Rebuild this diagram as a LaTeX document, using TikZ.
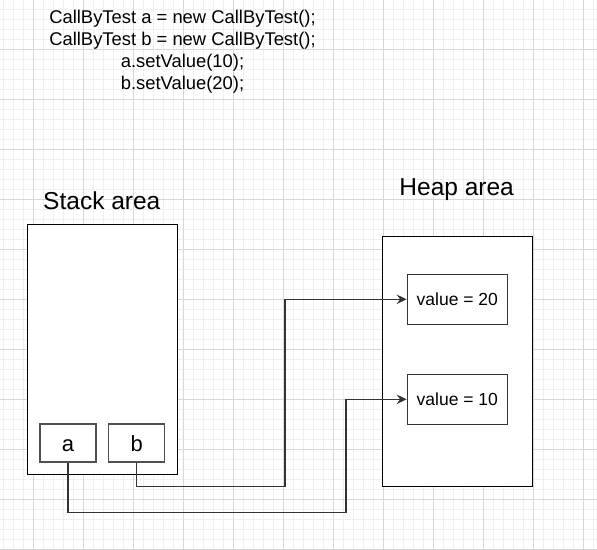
\documentclass[tikz,border=0pt]{standalone}
\usepackage{fontspec}
\setmainfont{Liberation Sans}
\usetikzlibrary{arrows.meta}
\definecolor{gridminor}{RGB}{240,240,240}
\definecolor{gridmajor}{RGB}{216,216,216}
\definecolor{conn}{RGB}{51,51,51}
\definecolor{varbox}{RGB}{80,80,80}
\tikzset{
  area/.style={draw=black, line width=1.3pt, fill=white, minimum width=150pt, minimum height=250pt, inner sep=0pt},
  varcell/.style={draw=varbox, line width=1.3pt, fill=white, minimum width=56pt, minimum height=38pt, inner sep=0pt,
    font=\fontsize{22}{26}\selectfont, text height=16pt, text depth=0pt},
  valcell/.style={draw=conn, line width=1.3pt, fill=white, minimum width=100pt, minimum height=50pt, inner sep=0pt,
    font=\fontsize{17.5}{21}\selectfont},
  title/.style={font=\fontsize{24.5}{29}\selectfont, inner sep=0pt, anchor=base},
  link/.style={draw=conn, line width=1.3pt, -{Stealth[length=10pt,width=9.5pt,inset=3.5pt]}},
}
\begin{document}
\begin{tikzpicture}[x=1pt,y=-1pt]
\useasboundingbox (0,0) rectangle (597,549);
\fill[white] (0,0) rectangle (597,549);
% grid
\foreach \gx in {3.3,13.3,...,597}{\draw[gridminor, line width=1pt] (\gx,0) -- (\gx,549);}
\foreach \gy in {9.3,19.3,...,549}{\draw[gridminor, line width=1pt] (0,\gy) -- (597,\gy);}
\foreach \gx in {33.3,83.3,...,597}{\draw[gridmajor, line width=1pt] (\gx,0) -- (\gx,549);}
\foreach \gy in {49.3,99.3,...,549.5}{\draw[gridmajor, line width=1pt] (0,\gy) -- (597,\gy);}

% code
\node[inner sep=0pt, anchor=north, align=center, font=\fontsize{18.4}{21.9}\selectfont] (code) at (182.5,9.9)
  {CallByTest a = new CallByTest();\\CallByTest b = new CallByTest();\\a.setValue(10);\\b.setValue(20);};

% titles
\node[title] (stacktitle) at (101.8,209.3) {Stack area};
\node[title] (heaptitle) at (456.7,195.7) {Heap area};

% areas
\node[area] (stack) at (102.3,349.3) {};
\node[area] (heap) at (457.3,361.7) {};

% variables
\node[varcell] (a) at (68,443) {a};
\node[varcell] (b) at (136.7,443) {b};

% values
\node[valcell] (v20) at (457.3,299.3) {value = 20};
\node[valcell] (v10) at (457.3,399.3) {value = 10};

% connectors
\coordinate (bturn) at (285,486.7);
\coordinate (aturn) at (346,512.3);
\draw[link] (b.south) |- (bturn) |- (v20.west);
\draw[link] (a.south) |- (aturn) |- (v10.west);
\end{tikzpicture}
\end{document}
